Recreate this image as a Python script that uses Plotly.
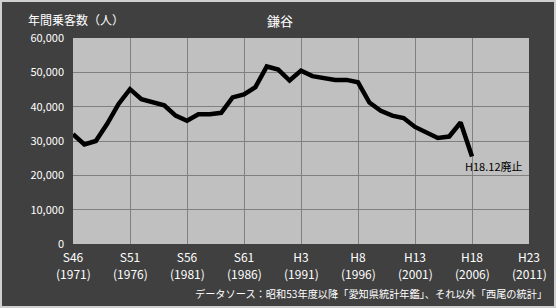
import plotly.graph_objects as go

years = list(range(1971, 2007))
passengers = [32000, 29000, 30000, 35000, 40800, 45100, 42200, 41400, 40400, 37400,
              35900, 37800, 37800, 38200, 42700, 43600, 45700, 51700, 50800, 47600,
              50500, 48900, 48500, 47800, 47800, 47100, 41200, 38800, 37400, 36700,
              34100, 32600, 30900, 31300, 35400, 25500]

tick_years = [1971, 1976, 1981, 1986, 1991, 1996, 2001, 2006, 2011]
tick_era = ["S46", "S51", "S56", "S61", "H3", "H8", "H13", "H18", "H23"]
y_ticks = [0, 10000, 20000, 30000, 40000, 50000, 60000]
y_text = ["0", "10,000", "20,000", "30,000", "40,000", "50,000", "60,000"]

W, H = 556, 308
ml, mr, mt, mb = 73, 27, 38, 64
pw, ph = W - ml - mr, H - mt - mb

def px_x(p):
    return (p - ml) / pw

def px_y(p):
    return (H - mb - p) / ph

font = "Noto Sans CJK JP"

fig = go.Figure()
fig.add_trace(go.Scatter(x=years, y=passengers, mode="lines",
                         line=dict(color="black", width=4.5), hoverinfo="skip"))

annotations = [
    dict(text="年間乗客数（人）", xref="paper", yref="paper",
         x=px_x(26), y=px_y(19), xanchor="left", yanchor="middle",
         showarrow=False, font=dict(size=12, color="white", family=font)),
    dict(text="鎌谷", xref="paper", yref="paper",
         x=px_x(280), y=px_y(20), xanchor="center", yanchor="middle",
         showarrow=False, font=dict(size=13, color="white", family=font)),
    dict(text="H18.12廃止", xref="x", yref="y",
         x=2005.2, y=22800, xanchor="left", yanchor="middle",
         showarrow=False, font=dict(size=11, color="black", family=font)),
    dict(text="データソース：昭和53年度以降「愛知県統計年鑑」、それ以外「西尾の統計」",
         xref="paper", yref="paper", x=px_x(549), y=px_y(293),
         xanchor="right", yanchor="middle", showarrow=False,
         font=dict(size=10.2, color="white", family=font)),
]
for y in tick_years:
    annotations.append(dict(text=f"({y})", xref="x", yref="paper",
                            x=y, y=px_y(273), xanchor="center", yanchor="middle",
                            showarrow=False,
                            font=dict(size=12, color="white", family=font)))

fig.update_layout(
    width=W, height=H,
    margin=dict(l=ml, r=mr, t=mt, b=mb),
    paper_bgcolor="#404040",
    plot_bgcolor="#C0C0C0",
    showlegend=False,
    font=dict(family=font, color="white", size=11),
    xaxis=dict(range=[1971, 2011], tickvals=tick_years, ticktext=tick_era,
               showgrid=True, gridcolor="#808080", gridwidth=1, zeroline=False,
               showline=False, ticks="", ticklabelstandoff=5,
               tickfont=dict(size=12, color="white"), fixedrange=True),
    yaxis=dict(range=[0, 60000], tickvals=y_ticks, ticktext=y_text,
               showgrid=True, gridcolor="#808080", gridwidth=1, zeroline=False,
               showline=False, ticks="", ticklabelstandoff=8,
               tickfont=dict(size=11, color="white"), fixedrange=True),
    shapes=[dict(type="rect", xref="paper", yref="paper",
                 x0=px_x(1), x1=px_x(W - 1), y0=px_y(H - 1), y1=px_y(1),
                 line=dict(color="#D0D0D0", width=2), layer="below")],
    annotations=annotations,
)

fig.write_html("out.html")
